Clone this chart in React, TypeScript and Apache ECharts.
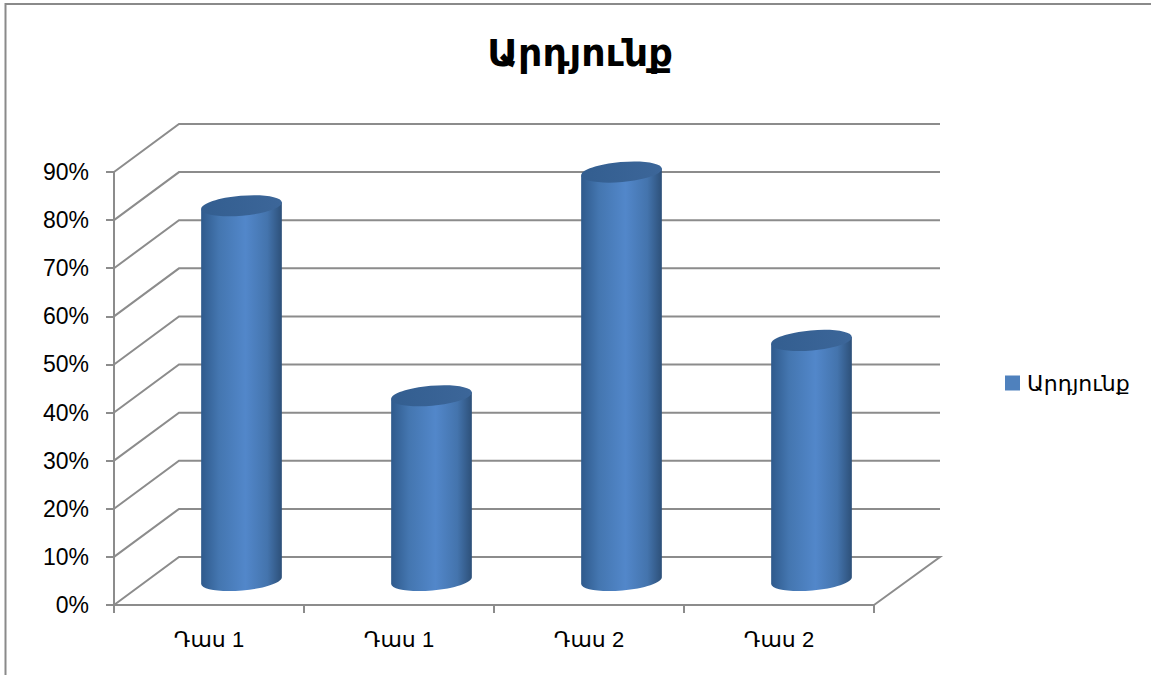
import React, { useEffect, useRef } from "react";
import * as echarts from "echarts";

const categories = ["Դաս 1", "Դաս 1", "Դաս 2", "Դաս 2"];
const values = [78, 38.5, 85, 50];
const ticks = [0, 10, 20, 30, 40, 50, 60, 70, 80, 90];
const seriesName = "Արդյունք";
const titleText = "Արդյունք";

const DEPTH_X = 65;
const DEPTH_Y = 48;
const RX = 40.5;
const RY = 10;
const TILT = (-5 * Math.PI) / 180;
const K = 0.5523;
const FONT = "'Liberation Sans', 'DejaVu Sans', sans-serif";
const LINE = "#8c8c8c";

const bodyFill = new echarts.graphic.LinearGradient(0, 0, 1, 0, [
  { offset: 0, color: "#2f5a8c" },
  { offset: 0.22, color: "#4476b0" },
  { offset: 0.55, color: "#5287ca" },
  { offset: 0.82, color: "#4474ad" },
  { offset: 1, color: "#2d5079" },
]);
const topFill = new echarts.graphic.LinearGradient(0, 0, 1, 0, [
  { offset: 0, color: "#335e90" },
  { offset: 1, color: "#3c6699" },
]);

// point on the tilted ellipse, in units of its two radii
function pt(cx: number, cy: number, u: number, v: number) {
  const x = cx + u * RX * Math.cos(TILT) - v * RY * Math.sin(TILT);
  const y = cy + u * RX * Math.sin(TILT) + v * RY * Math.cos(TILT);
  return `${x} ${y}`;
}
function lowerHalf(cx: number, cy: number) {
  return `C ${pt(cx, cy, -1, K)} ${pt(cx, cy, -K, 1)} ${pt(cx, cy, 0, 1)} C ${pt(cx, cy, K, 1)} ${pt(cx, cy, 1, K)} ${pt(cx, cy, 1, 0)}`;
}
function upperHalf(cx: number, cy: number) {
  return `C ${pt(cx, cy, 1, -K)} ${pt(cx, cy, K, -1)} ${pt(cx, cy, 0, -1)} C ${pt(cx, cy, -K, -1)} ${pt(cx, cy, -1, -K)} ${pt(cx, cy, -1, 0)}`;
}

function renderBar(params: any, api: any) {
  const idx = api.value(0);
  const [tx, ty] = api.coord([idx, api.value(1)]);
  const [, by] = api.coord([idx, 0]);
  const cx = tx + DEPTH_X / 2;
  const cyTop = ty - DEPTH_Y / 2;
  const cyBot = by - DEPTH_Y / 2 - 0.5;
  const body = `M ${pt(cx, cyTop, -1, 0)} L ${pt(cx, cyBot, -1, 0)} ${lowerHalf(cx, cyBot)} L ${pt(cx, cyTop, 1, 0)} Z`;
  const top = `M ${pt(cx, cyTop, -1, 0)} ${lowerHalf(cx, cyTop)} ${upperHalf(cx, cyTop)} Z`;
  return {
    type: "group",
    children: [
      { type: "path", shape: { pathData: body }, style: { fill: bodyFill } },
      { type: "path", shape: { pathData: top }, style: { fill: topFill } },
    ],
  };
}

function renderGridLine(params: any, api: any) {
  const v = api.value(1);
  const cs = params.coordSys;
  const y = api.coord([0, v])[1];
  const x0 = cs.x;
  const x1 = cs.x + cs.width;
  const points: number[][] = [
    [x0, y],
    [x0 + DEPTH_X, y - DEPTH_Y],
    [x1 + DEPTH_X + 1, y - DEPTH_Y],
  ];
  if (v === ticks[0]) points.push([x1, y]);
  return {
    type: "polyline",
    shape: { points },
    style: { stroke: LINE, lineWidth: 2, fill: "none" },
  };
}

export default function App() {
  const ref = useRef<HTMLDivElement>(null);
  useEffect(() => {
    const chart = echarts.init(ref.current!, undefined, { renderer: "svg" });
    chart.setOption({
      animation: false,
      backgroundColor: "#ffffff",
      title: {
        text: titleText,
        left: 575,
        top: 29,
        textAlign: "center",
        textStyle: { fontFamily: "'DejaVu Sans', sans-serif", fontSize: 38, fontWeight: "bold", color: "#000" },
      },
      legend: {
        data: [seriesName],
        left: 1005,
        top: 372,
        icon: "rect",
        itemWidth: 15,
        itemHeight: 15,
        itemGap: 0,
        padding: 0,
        textStyle: { fontFamily: FONT, fontSize: 22, color: "#000", padding: [0, 0, 0, 2] },
      },
      grid: { left: 114, right: 277, top: 172, bottom: 70 },
      xAxis: {
        type: "category",
        data: categories,
        boundaryGap: true,
        axisLine: { lineStyle: { color: LINE, width: 2 } },
        axisTick: { show: true, alignWithLabel: false, interval: 0, length: 8, lineStyle: { color: LINE, width: 2 } },
        axisLabel: { fontFamily: FONT, fontSize: 22, color: "#000", margin: 23, interval: 0 },
      },
      yAxis: {
        type: "value",
        min: 0,
        max: 90,
        interval: 10,
        splitLine: { show: false },
        axisLine: { show: true, lineStyle: { color: LINE, width: 2 } },
        axisTick: { show: true, length: 8, lineStyle: { color: LINE, width: 2 } },
        axisLabel: { fontFamily: FONT, fontSize: 23, color: "#000", margin: 25, padding: [3, 0, 0, 0], formatter: "{value}%" },
      },
      graphic: [
        {
          type: "polyline",
          shape: { points: [[5.5, 675], [5.5, 4], [1151, 4]] },
          style: { stroke: "#8a8a8a", lineWidth: 2, fill: "none" },
        },
      ],
      series: [
        {
          type: "custom",
          name: "gridlines",
          silent: true,
          clip: false,
          z: 1,
          data: ticks.map((v) => [0, v]),
          encode: { x: 0, y: 1 },
          renderItem: renderGridLine,
        },
        {
          type: "custom",
          name: seriesName,
          clip: false,
          z: 2,
          itemStyle: { color: "#4f81bd" },
          data: values.map((v, i) => [i, v]),
          encode: { x: 0, y: 1 },
          renderItem: renderBar,
        },
      ],
    });
    return () => chart.dispose();
  }, []);
  return <div ref={ref} style={{ position: "absolute", left: 0, top: 0, width: 1151, height: 675 }} />;
}
